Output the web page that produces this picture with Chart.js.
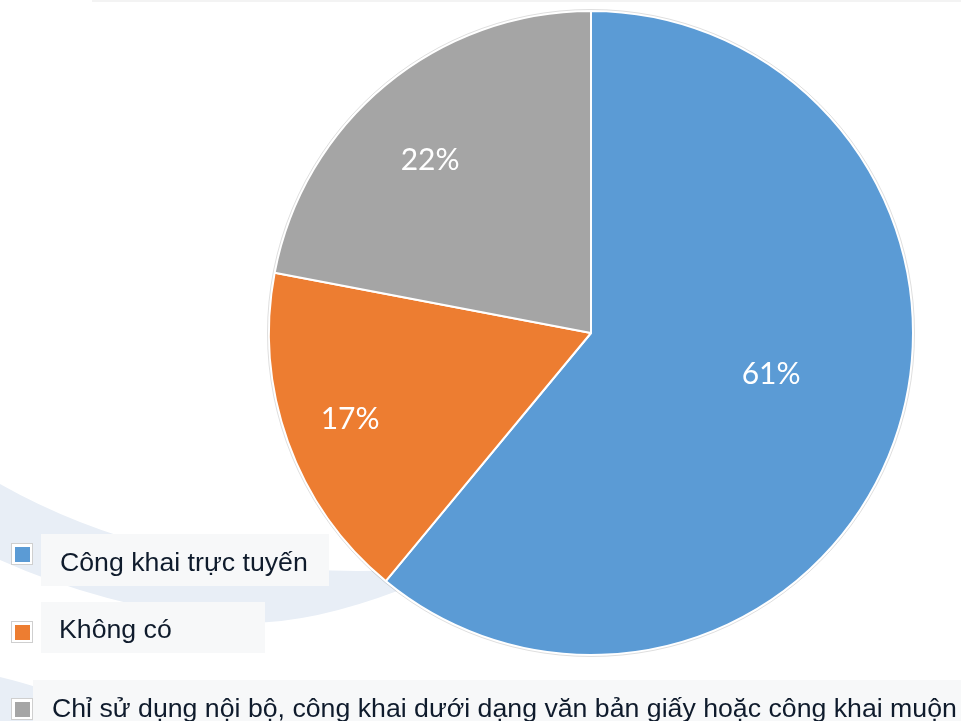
<!DOCTYPE html>
<html>
<head>
<meta charset="utf-8">
<script src="https://cdn.jsdelivr.net/npm/chart.js@4.4.1/dist/chart.umd.min.js"></script>
<style>
  html, body { margin: 0; padding: 0; background: #ffffff; }
  #wrap { position: relative; width: 961px; height: 721px; overflow: hidden; }
  #chart { position: absolute; left: 0; top: 0; }
  .lg-box { position: absolute; background: #f7f8f9; }
  .lg-mark { position: absolute; width: 20px; height: 20px; border: 1px solid #cfcfcf; background: #ffffff; }
  .lg-mark span { position: absolute; left: 3px; top: 3px; width: 15px; height: 15px; }
  .lg-text { position: absolute; font-family: "Liberation Sans", Arial, sans-serif; font-size: 26.7px; line-height: 30px; color: #0f1b2c; white-space: nowrap; }
</style>
</head>
<body>
<div id="wrap">
  <canvas id="chart" width="961" height="721"></canvas>
</div>
<script>
// ---- data ----
const categories = [
  "Công khai trực tuyến",
  "Không có",
  "Chỉ sử dụng nội bộ, công khai dưới dạng văn bản giấy hoặc công khai muộn"
];
const shares = [61, 17, 22];
const sliceColors = ["#5b9bd5", "#ed7d31", "#a5a5a5"];

// ---- label placement (style) ----
const labelRadiusFrac = [0.574, 0.795, 0.734];
const labelAngleShift = [-6.8, 0, -3.3];

// ---- HTML legend (layout) ----
const legendLayout = [
  { box: [41, 534, 288, 52], mark: [11, 543], text: [60, 547] },
  { box: [41, 602, 224, 51], mark: [11, 621], text: [59, 614] },
  { box: [33, 680, 928, 41], mark: [11, 698], text: [52, 693] }
];
const wrap = document.getElementById('wrap');
categories.forEach((c, i) => {
  const L = legendLayout[i];
  const b = document.createElement('div');
  b.className = 'lg-box';
  b.style.left = L.box[0] + 'px'; b.style.top = L.box[1] + 'px';
  b.style.width = L.box[2] + 'px'; b.style.height = L.box[3] + 'px';
  wrap.appendChild(b);
  const m = document.createElement('div');
  m.className = 'lg-mark';
  m.style.left = L.mark[0] + 'px'; m.style.top = L.mark[1] + 'px';
  const s = document.createElement('span');
  s.style.background = sliceColors[i];
  m.appendChild(s);
  wrap.appendChild(m);
  const t = document.createElement('div');
  t.className = 'lg-text';
  t.style.left = L.text[0] + 'px'; t.style.top = L.text[1] + 'px';
  t.textContent = c;
  wrap.appendChild(t);
});

// ---- background decoration ----
const bgPlugin = {
  id: 'bgDeco',
  beforeDraw(chart) {
    const ctx = chart.ctx;
    ctx.save();
    ctx.fillStyle = '#ffffff';
    ctx.fillRect(0, 0, chart.width, chart.height);
    // thin top band
    ctx.fillStyle = '#f3f3f3';
    ctx.fillRect(92, 0, chart.width - 92, 2);
    // swoosh band
    ctx.fillStyle = '#e8eef6';
    ctx.beginPath();
    ctx.moveTo(0, 484);
    ctx.quadraticCurveTo(170, 580, 400, 570);
    ctx.lineTo(400, 590);
    ctx.quadraticCurveTo(300, 628, 230, 622);
    ctx.quadraticCurveTo(100, 605, 0, 560);
    ctx.closePath();
    ctx.fill();
    // lower-left swoosh fragment
    ctx.beginPath();
    ctx.moveTo(0, 677);
    ctx.quadraticCurveTo(25, 683, 45, 690);
    ctx.lineTo(45, 721);
    ctx.lineTo(0, 721);
    ctx.closePath();
    ctx.fill();
    ctx.restore();
  }
};

// ---- percentage labels + faint rim ----
const labelPlugin = {
  id: 'sliceLabels',
  afterDatasetsDraw(chart) {
    const ctx = chart.ctx;
    const meta = chart.getDatasetMeta(0);
    ctx.save();
    const a0 = meta.data[0];
    if (a0) {
      ctx.strokeStyle = 'rgba(0,0,0,0.13)';
      ctx.lineWidth = 1;
      ctx.beginPath();
      ctx.arc(a0.x, a0.y, a0.outerRadius + 1.5, 0, Math.PI * 2);
      ctx.stroke();
    }
    ctx.fillStyle = '#ffffff';
    ctx.font = '30px Lato, "Open Sans", sans-serif';
    ctx.textAlign = 'center';
    ctx.textBaseline = 'middle';
    meta.data.forEach((arc, i) => {
      const mid = (arc.startAngle + arc.endAngle) / 2 + labelAngleShift[i] * Math.PI / 180;
      const r = arc.outerRadius * labelRadiusFrac[i];
      const x = arc.x + Math.cos(mid) * r;
      const y = arc.y + Math.sin(mid) * r;
      ctx.fillText(chart.data.datasets[0].data[i] + '%', x, y);
    });
    ctx.restore();
  }
};

new Chart(document.getElementById('chart'), {
  type: 'pie',
  data: {
    labels: categories,
    datasets: [{
      data: shares,
      backgroundColor: sliceColors,
      borderColor: '#ffffff',
      borderWidth: 2
    }]
  },
  options: {
    responsive: false,
    animation: false,
    layout: { padding: { left: 268, right: 47, top: 10, bottom: 65 } },
    plugins: {
      legend: { display: false },
      tooltip: { enabled: false }
    }
  },
  plugins: [bgPlugin, labelPlugin]
});
</script>
</body>
</html>
